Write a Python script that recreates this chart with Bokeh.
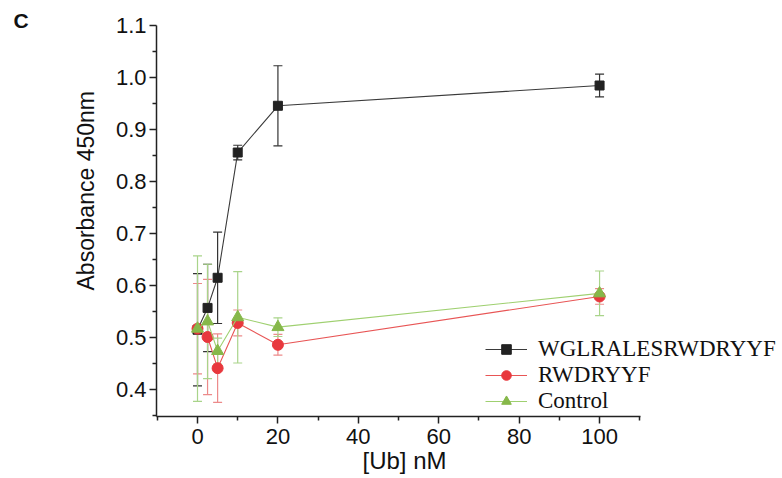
from bokeh.plotting import figure
from bokeh.models import (ColumnDataSource, Whisker, TeeHead, FixedTicker, PrintfTickFormatter,
                          Range1d, Legend, LegendItem, Title)
from bokeh.embed import file_html
from bokeh.resources import INLINE

# Data
conc = [0, 2.5, 5, 10, 20, 100]  # [Ub] nM

wg_mean = [0.515, 0.557, 0.615, 0.856, 0.946, 0.985]
wg_sd = [0.108, 0.084, 0.088, 0.014, 0.077, 0.022]

rw_mean = [0.517, 0.501, 0.441, 0.528, 0.486, 0.579]
rw_sd = [0.087, 0.111, 0.066, 0.025, 0.020, 0.015]

ct_mean = [0.517, 0.531, 0.474, 0.539, 0.520, 0.585]
ct_sd = [0.140, 0.110, 0.025, 0.088, 0.018, 0.043]

series_names = ["WGLRALESRWDRYYF", "RWDRYYF", "Control"]

x_major = [0, 20, 40, 60, 80, 100]
x_minor = [-10, 10, 30, 50, 70, 90, 110]
y_major = [0.4, 0.5, 0.6, 0.7, 0.8, 0.9, 1.0, 1.1]
y_minor = [0.35, 0.45, 0.55, 0.65, 0.75, 0.85, 0.95, 1.05]
x_axis_bounds = (-10.2, 110.2)

W, H = 782, 478
p = figure(width=W, height=H, output_backend="svg", toolbar_location=None,
           x_range=Range1d(-10.2, 145.5), y_range=Range1d(0.348, 1.1005),
           min_border_left=156, min_border_right=0, min_border_top=25, min_border_bottom=62)
p.outline_line_color = None
p.grid.visible = False
p.background_fill_color = "white"
p.border_fill_color = "white"

for ax in (p.xaxis[0], p.yaxis[0]):
    ax.axis_line_width = 1.5
    ax.axis_line_color = "#222222"
    ax.major_tick_line_width = 1.5
    ax.minor_tick_line_width = 1.5
    ax.major_tick_line_color = "#222222"
    ax.minor_tick_line_color = "#222222"
    ax.major_tick_out = 7
    ax.major_tick_in = 0
    ax.minor_tick_out = 4
    ax.minor_tick_in = 0
    ax.major_label_text_font = "Liberation Sans"
    ax.major_label_text_font_size = "22px"
    ax.major_label_text_color = "#111111"

p.xaxis.bounds = x_axis_bounds
p.xaxis.ticker = FixedTicker(ticks=x_major, minor_ticks=x_minor)
p.yaxis.ticker = FixedTicker(ticks=y_major, minor_ticks=y_minor)
p.yaxis.formatter = PrintfTickFormatter(format="%.1f")
p.xaxis.major_label_standoff = 5
p.yaxis.major_label_standoff = 3

specs = [
    (wg_mean, wg_sd, "#222222", "#3a3a3a", "#333333", "square", 9),
    (rw_mean, rw_sd, "#e8383d", "#e85555", "#ec8a8a", "circle", 11),
    (ct_mean, ct_sd, "#86b84a", "#9fd070", "#a9d48a", "triangle", 12),
]

items = []
for name, (mean, sd, mcol, lcol, ecol, marker, size) in zip(series_names, specs):
    src = ColumnDataSource(dict(
        x=conc, y=mean,
        upper=[m + s for m, s in zip(mean, sd)],
        lower=[m - s for m, s in zip(mean, sd)],
    ))
    wh = Whisker(source=src, base="x", upper="upper", lower="lower", dimension="height",
                 line_color=ecol, line_width=1.2,
                 upper_head=TeeHead(size=9, line_color=ecol, line_width=1.2),
                 lower_head=TeeHead(size=9, line_color=ecol, line_width=1.2))
    p.add_layout(wh)
    lr = p.line("x", "y", source=src, line_color=lcol, line_width=1.1)
    sr = p.scatter("x", "y", source=src, marker=marker, size=size,
                   fill_color=mcol, line_color=mcol)
    items.append(LegendItem(label=name, renderers=[lr, sr]))

legend = Legend(items=items, location=(329, 2), orientation="vertical",
                border_line_color=None, background_fill_alpha=0,
                padding=0, margin=0, spacing=0,
                glyph_width=42, glyph_height=24, label_height=24, label_standoff=11,
                label_text_font="Liberation Serif", label_text_font_size="23px",
                label_text_color="#111111")
p.add_layout(legend)

# axis titles as panel titles so they can be positioned like the reference
p.add_layout(Title(text="[Ub] nM", align="left", offset=206, standoff=0, vertical_align="top",
                   text_font="Liberation Sans", text_font_size="24px",
                   text_font_style="normal", text_color="#111111"), "below")
p.add_layout(Title(text="Absorbance 450nm", align="left", offset=126, standoff=28,
                   text_font="Liberation Sans", text_font_size="23px",
                   text_font_style="normal", text_color="#111111"), "left")

# panel letter
p.add_layout(Title(text="C", align="left", offset=-143, standoff=-12,
                   text_font="Liberation Sans", text_font_style="bold",
                   text_font_size="21px", text_color="#111111"), "above")

open("out.html", "w").write(file_html(p, INLINE))
